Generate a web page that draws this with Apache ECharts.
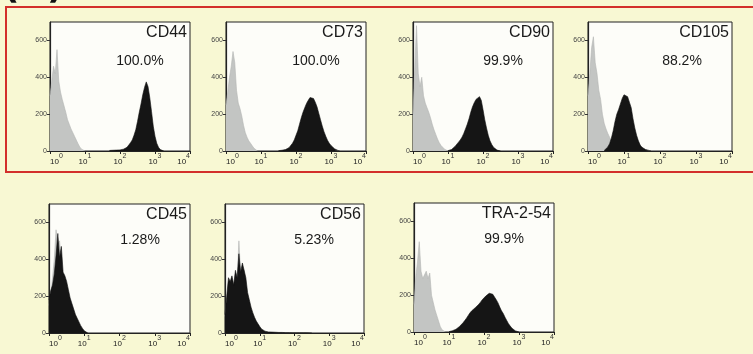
<!DOCTYPE html>
<html>
<head>
<meta charset="utf-8">
<script src="https://cdn.jsdelivr.net/npm/echarts@6/dist/echarts.min.js"></script>
<style>
  html, body { margin: 0; padding: 0; background: #f8f8d3; }
  #chart { width: 753px; height: 354px; }
</style>
</head>
<body>
<div id="chart"></div>
<script>
// log10 decades on x, counts on y
const decadeTicks = [0, 1, 2, 3, 4]
const countTicks = [0, 200, 400, 600]
const binWidth = 0.05

const panelNames = ['CD44', 'CD73', 'CD90', 'CD105', 'CD45', 'CD56', 'TRA-2-54']
const panelPercents = ['100.0%', '100.0%', '99.9%', '88.2%', '1.28%', '5.23%', '99.9%']

// first bin (in decades) of each histogram
const grayStart = [0, 0, 0, 0, 0, 0, 0]
const blackStart = [1.7, 1.5, 1.0, 0.45, 0, 0, 1.0]

// isotype control (gray)
const cd44Gray = [300, 380, 460, 420, 550, 380, 320, 280, 245, 210, 170, 145, 120, 100, 80, 60, 40, 22, 10, 3, 0]
const cd73Gray = [250, 320, 400, 460, 540, 480, 330, 260, 230, 190, 140, 100, 75, 55, 42, 28, 15, 6, 0]
const cd90Gray = [200, 450, 680, 420, 350, 400, 300, 260, 235, 210, 180, 145, 115, 90, 65, 45, 30, 20, 10, 4, 0]
const cd105Gray = [300, 420, 560, 620, 480, 420, 330, 280, 200, 150, 120, 95, 75, 55, 40, 28, 18, 10, 4, 0]
const cd45Gray = [150, 200, 300, 400, 560, 480, 500, 380, 300, 260, 220, 180, 140, 110, 80, 60, 40, 25, 12, 5, 0]
const cd56Gray = [90, 180, 280, 260, 300, 250, 320, 290, 500, 320, 360, 340, 260, 190, 150, 110, 80, 60, 40, 25, 12, 5, 0]
const tra254Gray = [150, 300, 380, 490, 330, 290, 310, 330, 290, 320, 200, 160, 120, 90, 60, 30, 12, 4, 0]

// stained sample (black)
const cd44Black = [3, 3, 4, 4, 5, 5, 6, 8, 10, 14, 20, 30, 45, 60, 85, 115, 160, 210, 255, 305, 345, 375, 350, 290, 215, 135, 80, 42, 20, 8, 3, 0]
const cd73Black = [2, 3, 4, 6, 8, 12, 18, 28, 42, 60, 85, 110, 145, 180, 210, 235, 258, 275, 290, 295, 285, 265, 240, 205, 170, 135, 105, 80, 58, 42, 30, 20, 12, 7, 3, 0]
const cd90Black = [2, 4, 8, 15, 25, 35, 48, 60, 75, 95, 120, 145, 175, 210, 240, 262, 280, 290, 295, 275, 225, 170, 125, 85, 55, 35, 20, 10, 5, 2, 0]
const cd105Black = [3, 10, 22, 40, 70, 110, 160, 200, 225, 255, 285, 305, 315, 295, 265, 235, 175, 125, 85, 55, 32, 20, 12, 8, 5, 3, 0]
const cd45Black = [180, 230, 260, 320, 420, 540, 410, 470, 330, 310, 280, 235, 190, 160, 130, 100, 80, 60, 40, 25, 12, 5, 0]
const cd56Black = [100, 200, 300, 280, 310, 260, 340, 300, 430, 330, 380, 370, 300, 220, 180, 140, 110, 85, 65, 50, 35, 22, 14, 10, 8, 6, 5, 5, 4, 4, 3, 3, 3, 3, 2, 2, 2, 2, 2, 1, 1, 1, 1, 1, 1, 1, 1, 1, 1, 1, 0]
const tra254Black = [2, 4, 7, 10, 15, 22, 30, 40, 50, 62, 75, 90, 104, 115, 125, 132, 140, 150, 162, 175, 185, 195, 205, 210, 213, 205, 195, 175, 158, 135, 115, 100, 80, 62, 45, 32, 20, 12, 6, 3, 0]

const grayData = [cd44Gray, cd73Gray, cd90Gray, cd105Gray, cd45Gray, cd56Gray, tra254Gray]
const blackData = [cd44Black, cd73Black, cd90Black, cd105Black, cd45Black, cd56Black, tra254Black]

// frame of each plot, px
const boxes = [
  { left: 50, top: 22, width: 140 },
  { left: 226, top: 22, width: 140 },
  { left: 413, top: 22, width: 140 },
  { left: 588, top: 22, width: 144 },
  { left: 49, top: 204, width: 141 },
  { left: 225, top: 204, width: 139 },
  { left: 414, top: 203, width: 140 }
]

const chart = echarts.init(document.getElementById('chart'))

function toPoints(counts, start) {
  return counts.map((c, i) => [start + i * binWidth, c])
}

const grids = []
const xAxes = []
const yAxes = []
const series = []
const texts = []

boxes.forEach((b, i) => {
  grids.push({
    left: b.left,
    top: b.top,
    width: b.width,
    height: 129,
    show: true,
    backgroundColor: '#fdfdf9',
    borderColor: '#222',
    borderWidth: 1
  })
  xAxes.push({
    gridIndex: i,
    type: 'value',
    min: decadeTicks[0],
    max: decadeTicks[decadeTicks.length - 1],
    interval: 1,
    splitLine: { show: false },
    axisLine: { lineStyle: { color: '#222', width: 1.2 } },
    axisTick: { length: 3, lineStyle: { color: '#222' } },
    axisLabel: {
      margin: 2,
      alignMinLabel: 'left',
      alignMaxLabel: 'right',
      formatter: v => '{b|10}{s|' + v + '}',
      rich: {
        b: { fontSize: 8, fontFamily: 'Liberation Sans', color: '#222', lineHeight: 13, verticalAlign: 'bottom' },
        s: { fontSize: 7, fontFamily: 'Liberation Sans', color: '#333', lineHeight: 13, verticalAlign: 'top' }
      }
    }
  })
  yAxes.push({
    gridIndex: i,
    type: 'value',
    min: countTicks[0],
    max: 700,
    interval: 200,
    splitLine: { show: false },
    axisLine: { show: true, lineStyle: { color: '#222', width: 1.2 } },
    axisTick: { show: true, length: 3, lineStyle: { color: '#333' } },
    axisLabel: {
      showMaxLabel: false,
      margin: 3,
      fontSize: 7,
      fontFamily: 'Liberation Sans',
      color: '#444'
    }
  })
  series.push({
    type: 'line',
    xAxisIndex: i,
    yAxisIndex: i,
    data: toPoints(grayData[i], grayStart[i]),
    showSymbol: false,
    silent: true,
    lineStyle: { color: '#b4b6b4', width: 0.6 },
    areaStyle: { color: '#c3c5c3', opacity: 1 },
    z: 2
  })
  series.push({
    type: 'line',
    xAxisIndex: i,
    yAxisIndex: i,
    data: toPoints(blackData[i], blackStart[i]),
    showSymbol: false,
    silent: true,
    lineStyle: { color: '#111', width: 0.6 },
    areaStyle: { color: '#151515', opacity: 1 },
    z: 3
  })
  const right = b.left + b.width
  texts.push({
    type: 'text',
    x: right - 3,
    y: b.top + 11,
    style: {
      text: panelNames[i],
      font: '16px "Liberation Sans"',
      fill: '#1a1a1a',
      textAlign: 'right',
      textVerticalAlign: 'middle'
    },
    z: 10
  })
  texts.push({
    type: 'text',
    x: right - 50,
    y: b.top + (i < 4 ? 39 : 36),
    style: {
      text: panelPercents[i],
      font: '14px "Liberation Sans"',
      fill: '#1a1a1a',
      textAlign: 'center',
      textVerticalAlign: 'middle'
    },
    z: 10
  })
})

// red frame round the top row, and the cut-off panel letter
texts.push({
  type: 'rect',
  shape: { x: 6, y: 7, width: 760, height: 165 },
  style: { fill: null, stroke: '#d3302c', lineWidth: 2 },
  z: 1
})
texts.push({
  type: 'text',
  x: 3,
  y: -29,
  style: { text: '(B)', font: 'bold 36px "DejaVu Sans"', fill: '#111' },
  z: 1
})

chart.setOption({
  animation: false,
  backgroundColor: '#f8f8d3',
  grid: grids,
  xAxis: xAxes,
  yAxis: yAxes,
  series: series,
  graphic: texts
})
</script>
</body>
</html>
